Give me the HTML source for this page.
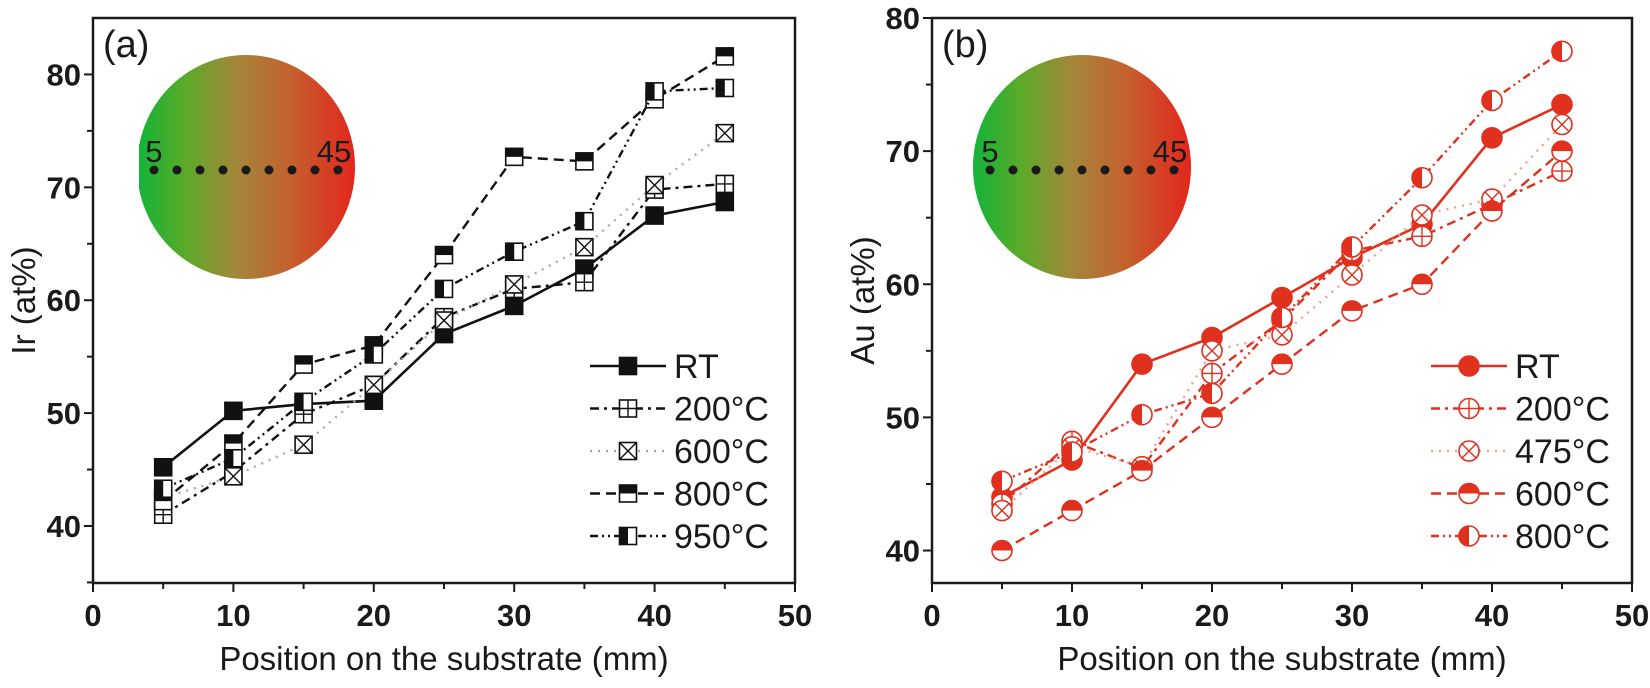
<!DOCTYPE html>
<html><head><meta charset="utf-8"><style>
html,body{margin:0;padding:0;background:#fff;}
svg{display:block;font-family:"Liberation Sans",Arial,sans-serif;}
</style></head><body>
<svg id="chart" width="1650" height="688" viewBox="0 0 1650 688" xmlns="http://www.w3.org/2000/svg">
<defs>
<linearGradient id="wafer" x1="0" x2="1" y1="0" y2="0">
<stop offset="0" stop-color="#12b43a"/><stop offset="0.22" stop-color="#5aaa28"/><stop offset="0.45" stop-color="#a3873a"/><stop offset="0.7" stop-color="#c4612e"/><stop offset="1" stop-color="#e3261d"/>
</linearGradient>
<clipPath id="clipA"><rect x="139" y="0" width="300" height="688"/></clipPath>
<clipPath id="clipB"><rect x="973" y="0" width="300" height="688"/></clipPath>
</defs>
<g id="gA"></g>
<g id="gB"></g>
</svg>
<script>
const xPos=[5,10,15,20,25,30,35,40,45];
const xTicks=[0,10,20,30,40,50];
const aTicksY=[40,50,60,70,80];
const bTicksY=[40,50,60,70,80];
const aNames=["RT","200°C","600°C","800°C","950°C"];
const aRT=[45.2,50.2,50.8,51.1,57.0,59.5,62.8,67.5,68.7];
const a200=[41.0,44.8,49.9,52.5,58.5,61.0,61.6,69.8,70.3];
const a600=[42.5,44.4,47.2,52.5,58.2,61.4,64.7,70.2,74.8];
const a800=[42.2,47.3,54.3,56.0,64.0,72.7,72.3,77.8,81.6];
const a950=[43.3,46.0,51.0,55.2,61.0,64.3,67.0,78.5,78.8];
const bNames=["RT","200°C","475°C","600°C","800°C"];
const bRT=[44.0,46.8,54.0,56.0,59.0,62.0,64.5,71.0,73.5];
const b200=[43.5,48.2,46.2,53.3,57.3,62.5,63.6,66.0,68.5];
const b475=[43.0,47.8,46.3,55.0,56.2,60.7,65.2,66.4,72.0];
const b600=[40.0,43.0,46.0,50.0,54.0,58.0,60.0,65.5,70.0];
const b800=[45.2,47.4,50.2,51.8,57.5,62.8,68.0,73.8,77.5];

const NS="http://www.w3.org/2000/svg";
function mk(p,tag,at){const e=document.createElementNS(NS,tag);for(const k in at)e.setAttribute(k,at[k]);p.appendChild(e);return e;}
function txt(p,x,y,s,size,anchor,weight){const t=mk(p,'text',{x:x,y:y,'font-size':size,'text-anchor':anchor||'middle','font-weight':weight||'normal',fill:'#1a1a1a'});t.textContent=s;return t;}

const dashes=["","9,5,3,5","2,6","10,6","8,4,2,4,2,4"];

function marker(g,kind,shape,x,y,col){
  const m=mk(g,'g',{});
  
  
  if(shape==='sq'){
    const h=8.5;
    mk(m,'rect',{x:x-h,y:y-h,width:2*h,height:2*h,fill:kind===0?col:'#fff',stroke:col,'stroke-width':1.6});
    if(kind===1){mk(m,'line',{x1:x,y1:y-h,x2:x,y2:y+h,stroke:col,'stroke-width':1.4});mk(m,'line',{x1:x-h,y1:y,x2:x+h,y2:y,stroke:col,'stroke-width':1.4});}
    if(kind===2){mk(m,'line',{x1:x-h,y1:y-h,x2:x+h,y2:y+h,stroke:col,'stroke-width':1.4});mk(m,'line',{x1:x+h,y1:y-h,x2:x-h,y2:y+h,stroke:col,'stroke-width':1.4});}
    if(kind===3)mk(m,'rect',{x:x-h,y:y-h,width:2*h,height:h,fill:col});
    if(kind===4)mk(m,'rect',{x:x-h,y:y-h,width:h,height:2*h,fill:col});
  }else{
    const r=10;
    mk(m,'circle',{cx:x,cy:y,r:r,fill:kind===0?col:'#fff',stroke:col,'stroke-width':1.6});
    if(kind===1){mk(m,'line',{x1:x,y1:y-r,x2:x,y2:y+r,stroke:col,'stroke-width':1.4});mk(m,'line',{x1:x-r,y1:y,x2:x+r,y2:y,stroke:col,'stroke-width':1.4});}
    if(kind===2){const d=r*0.707;mk(m,'line',{x1:x-d,y1:y-d,x2:x+d,y2:y+d,stroke:col,'stroke-width':1.4});mk(m,'line',{x1:x+d,y1:y-d,x2:x-d,y2:y+d,stroke:col,'stroke-width':1.4});}
    if(kind===3)mk(m,'path',{d:`M${x-r},${y} A${r},${r} 0 0 1 ${x+r},${y} Z`,fill:col});
    if(kind===4)mk(m,'path',{d:`M${x},${y-r} A${r},${r} 0 0 0 ${x},${y+r} Z`,fill:col});
  }
}

function panel(g,o){
  const sx=v=>o.x0+(v-o.xmin)/(o.xmax-o.xmin)*(o.x1-o.x0);
  const sy=v=>o.y1-(v-o.ymin)/(o.ymax-o.ymin)*(o.y1-o.y0);
  // wafer inset
  const w=mk(g,'g',{'clip-path':`url(#${o.clip})`});
  
  
  mk(w,'ellipse',{cx:o.wcx,cy:167,rx:109,ry:112,fill:'url(#wafer)'});
  for(let i=0;i<9;i++)mk(w,'circle',{cx:o.wcx-92+i*23,cy:170,r:4.5,fill:'#1a1a1a'});
  txt(w,o.wcx-92,162,'5',31,'middle');
  txt(w,o.wcx+88,162,'45',31,'middle');
  // axes box
  const ax=mk(g,'rect',{x:o.x0,y:o.y0,width:o.x1-o.x0,height:o.y1-o.y0,fill:'none',stroke:'#1a1a1a','stroke-width':2.5});
  
  
  xTicks.forEach(v=>{
    const x=sx(v);
    mk(g,'line',{x1:x,y1:o.y1,x2:x,y2:o.y1+9,stroke:'#1a1a1a','stroke-width':2});
    if(v<50)mk(g,'line',{x1:sx(v+5),y1:o.y1,x2:sx(v+5),y2:o.y1+6,stroke:'#1a1a1a','stroke-width':2});
    const t=txt(g,x,626,String(v),31,'middle','bold');
    
    
  });
  o.yt.forEach(v=>{
    const y=sy(v);
    mk(g,'line',{x1:o.x0-9,y1:y,x2:o.x0,y2:y,stroke:'#1a1a1a','stroke-width':2});
    if(sy(v-5)<o.y1)mk(g,'line',{x1:o.x0-6,y1:sy(v-5),x2:o.x0,y2:sy(v-5),stroke:'#1a1a1a','stroke-width':2});
    const t=txt(g,o.x0-12,y+11,String(v),31,'end','bold');
    
    
  });
  if(sy(o.yt[o.yt.length-1]+5)>o.y0)mk(g,'line',{x1:o.x0-6,y1:sy(o.yt[o.yt.length-1]+5),x2:o.x0,y2:sy(o.yt[o.yt.length-1]+5),stroke:'#1a1a1a','stroke-width':2});
  const xt=txt(g,(o.x0+o.x1)/2,670,'Position on the substrate (mm)',33,'middle');
  
  
  const yt=txt(g,0,0,o.ytitle,33,'middle');
  yt.setAttribute('transform',`translate(${o.x0-58},${(o.y0+o.y1)/2}) rotate(-90)`);
  
  
  const pl=txt(g,o.x0+10,57,o.label,38,'start');
  
  
  // series
  o.series.forEach((s,k)=>{
    const sg=mk(g,'g',{});
    
    
    const pts=s.map((v,i)=>sx(xPos[i])+','+sy(v)).join(' ');
    const ln=mk(sg,'polyline',{points:pts,fill:'none',stroke:k===2?o.light:o.col,'stroke-width':k===0?2.6:2.4,'stroke-dasharray':dashes[k]});
    
    
    s.forEach((v,i)=>marker(sg,k,o.shape,sx(xPos[i]),sy(v),o.col));
  });
  // legend
  const lg=mk(g,'g',{});
  
  
  o.names.forEach((n,k)=>{
    const y=378+k*42.5;
    const e=mk(lg,'g',{});
    
    
    mk(e,'line',{x1:o.lx,y1:y-12,x2:o.lx+76,y2:y-12,stroke:k===2?o.light:o.col,'stroke-width':2.6,'stroke-dasharray':dashes[k]});
    marker(e,k,o.shape,o.lx+38,y-12,o.col);
    txt(e,o.lx+84,y,n,34,'start');
  });
}

panel(document.getElementById('gA'),{x0:93,x1:795,y0:18,y1:583,xmin:0,xmax:50,ymin:34.95,ymax:85,yt:aTicksY,
  series:[aRT,a200,a600,a800,a950],names:aNames,shape:'sq',col:'#111',light:'#aaa',
  ytitle:'Ir (at%)',label:'(a)',wcx:246,clip:'clipA',lx:590});
panel(document.getElementById('gB'),{x0:932,x1:1632,y0:18,y1:583,xmin:0,xmax:50,ymin:37.56,ymax:80,yt:bTicksY,
  series:[bRT,b200,b475,b600,b800],names:bNames,shape:'ci',col:'#e0301e',light:'#f0a090',
  ytitle:'Au (at%)',label:'(b)',wcx:1082,clip:'clipB',lx:1431});
</script>
</body></html>
